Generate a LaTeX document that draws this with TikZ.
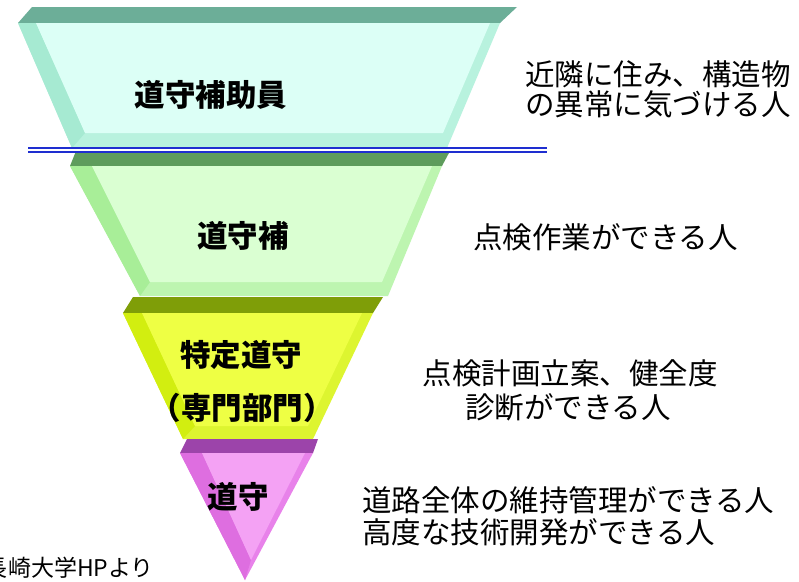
\documentclass[tikz,border=0pt]{standalone}
\usepackage{fontspec}
\newfontfamily\jp{Noto Sans CJK JP}
\newfontfamily\jpb{Noto Sans CJK JP Black}
\definecolor{cAtop}{HTML}{6CAE98}
\definecolor{cAface}{HTML}{DCFFF6}
\definecolor{cAside}{HTML}{B8F2DE}
\definecolor{cAleft}{HTML}{A6EAD2}
\definecolor{cBtop}{HTML}{5E9C5C}
\definecolor{cBface}{HTML}{DAFFD2}
\definecolor{cBside}{HTML}{BDF5B0}
\definecolor{cBleft}{HTML}{A8EE98}
\definecolor{cCtop}{HTML}{7F9E08}
\definecolor{cCface}{HTML}{EEFF44}
\definecolor{cCside}{HTML}{DDF530}
\definecolor{cCleft}{HTML}{D2EE10}
\definecolor{cDtop}{HTML}{9C44AA}
\definecolor{cDface}{HTML}{F4A2F4}
\definecolor{cDside}{HTML}{E882EA}
\definecolor{cDleft}{HTML}{DE6EE0}
\definecolor{cBlue}{HTML}{1E2ED0}
\begin{document}
\begin{tikzpicture}[x=1pt,y=-1pt,
  every node/.style={inner sep=0pt,outer sep=0pt},
  lbl/.style={font=\jpb\fontsize{30.5}{30.5}\selectfont},
  desc/.style={font=\jp\fontsize{29.5}{29.5}\selectfont,anchor=west},
  bluedouble/.style={draw=cBlue,line width=2.1pt,double=white,double distance=1.2pt}]
\useasboundingbox (0,0) rectangle (799,581);
\clip (0,0) rectangle (799,581);
\fill[white] (0,0) rectangle (799,581);
% layer 1
\fill[cAtop] (32,7) -- (517,7) -- (500,23) -- (18,23) -- cycle;
\fill[cAside] (18,23) -- (500,23) -- (447,148) -- (72,148) -- cycle;
\fill[cAleft] (18,23) -- (36,23) -- (85,133) -- (72,148) -- cycle;
\fill[cAface] (36,23) -- (490,23) -- (443,133) -- (85,133) -- cycle;
% layer 2
\fill[cBtop] (76,151) -- (450,151) -- (442,166) -- (70,166) -- cycle;
\fill[cBside] (70,166) -- (442,166) -- (388,296) -- (140,296) -- cycle;
\fill[cBleft] (70,166) -- (92,166) -- (150,282) -- (140,296) -- cycle;
\fill[cBface] (92,166) -- (432,166) -- (382,282) -- (150,282) -- cycle;
% layer 3
\fill[cCtop] (133,297) -- (383,297) -- (373,313) -- (123,313) -- cycle;
\fill[cCside] (123,313) -- (373,313) -- (313,439) -- (183,439) -- cycle;
\fill[cCleft] (123,313) -- (142,313) -- (195,426) -- (183,439) -- cycle;
\fill[cCface] (142,313) -- (362,313) -- (308,426) -- (195,426) -- cycle;
% layer 4
\fill[cDtop] (187,439) -- (318,439) -- (313,453) -- (180,453) -- cycle;
\fill[cDside] (180,453) -- (313,453) -- (245,580) -- cycle;
\fill[cDleft] (180,453) -- (202,453) -- (251,560) -- (245,580) -- cycle;
\fill[cDface] (202,453) -- (305,453) -- (251,560) -- cycle;
% blue double line
\coordinate (blL) at (28,150);
\coordinate (blR) at (547,150);
\draw[bluedouble] (blL) -- (blR);
% labels in funnel
\node[lbl] (t1) at (211,95) {道守補助員};
\node[lbl] (t2) at (243,236) {道守補};
\node[lbl] (t3a) at (241,355) {特定道守};
\node[lbl] (t3b) at (242,408) {（専門部門）};
\node[lbl] (t4) at (238,497) {道守};
% descriptions
\node[desc] (d1a) at (525,74) {近隣に住み、構造物};
\node[desc] (d1b) at (525,104) {の異常に気づける人};
\node[desc] (d2) at (473,237) {点検作業ができる人};
\node[desc,anchor=center] (d3a) at (570,373) {点検計画立案、健全度};
\node[desc,anchor=center] (d3b) at (568,407) {診断ができる人};
\node[desc] (d4a) at (362,500) {道路全体の維持管理ができる人};
\node[desc] (d4b) at (362,532) {高度な技術開発ができる人};
% credit (cut at the left edge, as in the reference)
\node[anchor=west,font=\jp\fontsize{23}{23}\selectfont] (cr) at (-15,568) {長崎大学HPより};
\end{tikzpicture}
\end{document}
